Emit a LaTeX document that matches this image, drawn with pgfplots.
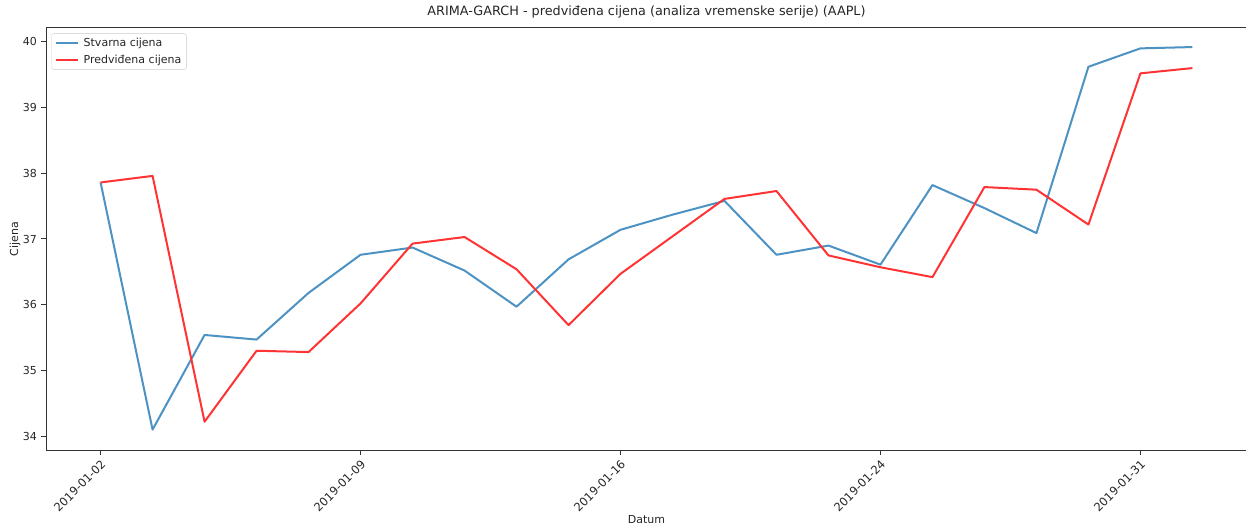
\documentclass[border=0pt]{standalone}
\usepackage{fontspec}
\setmainfont{DejaVu Sans}
\usepackage{pgfplots}
\pgfplotsset{compat=1.18}
\definecolor{mblue}{HTML}{4C92C3}
\definecolor{mred}{HTML}{FF3333}
\definecolor{spine}{HTML}{333333}
\begin{document}
\begin{tikzpicture}
\begin{axis}[
  at={(46pt,72pt)}, anchor=south west,
  width=1201pt, height=422pt, scale only axis,
  xmin=-1.05, xmax=22.05, ymin=33.79, ymax=40.21,
  xtick={0,5,10,15,20},
  xticklabels={2019-01-02,2019-01-09,2019-01-16,2019-01-24,2019-01-31},
  ytick={34,35,36,37,38,39,40},
  tick align=outside, xtick pos=bottom, ytick pos=left,
  major tick length=5pt,
  every tick/.style={spine, line width=1pt},
  axis line style={spine, line width=1pt},
  tick label style={font=\fontsize{11}{13}\selectfont, text=black!85},
  /pgf/number format/assume math mode=true,
  xticklabel style={rotate=45, anchor=east, inner sep=0pt, xshift=-3pt, yshift=-7pt, font=\fontsize{11.5}{13}\selectfont},
  yticklabel style={anchor=east, inner sep=0pt, xshift=-4pt},
  title={ARIMA-GARCH - predviđena cijena (analiza vremenske serije) (AAPL)},
  title style={font=\fontsize{12.8}{15}\selectfont, at={(axis description cs:0.5,1)}, anchor=base, yshift=6pt, inner sep=0pt, text=black!85},
  xlabel={Datum},
  xlabel style={at={(axis description cs:0.5,-0.164)}, anchor=center, font=\fontsize{11}{13}\selectfont, text=black!85},
  ylabel={Cijena},
  ylabel style={at={(axis description cs:-0.0258,0.5)}, anchor=center, font=\fontsize{11}{13}\selectfont, text=black!85},
  legend cell align=left,
  legend image code/.code={\draw[#1] (0pt,0pt) -- (22pt,0pt);},
  legend style={at={(axis description cs:0,1)}, anchor=north west, xshift=5.5pt, yshift=-5.5pt,
    draw=black!20, rounded corners=2pt, fill=white, fill opacity=0.8, text opacity=1,
    inner xsep=3pt, inner ysep=2.5pt, row sep=3pt, column sep=3pt,
    font=\fontsize{11}{13}\selectfont, text=black!85},
]
\addplot[mblue, line width=2pt, line join=round] coordinates {
(0,37.86) (1,34.10) (2,35.54) (3,35.47) (4,36.18) (5,36.76) (6,36.87) (7,36.52)
(8,35.97) (9,36.69) (10,37.14) (11,37.37) (12,37.58) (13,36.76) (14,36.90) (15,36.61)
(16,37.82) (17,37.47) (18,37.09) (19,39.62) (20,39.90) (21,39.92)};
\addlegendentry{Stvarna cijena}
\addplot[mred, line width=2pt, line join=round] coordinates {
(0,37.86) (1,37.96) (2,34.22) (3,35.30) (4,35.28) (5,36.02) (6,36.93) (7,37.03)
(8,36.54) (9,35.69) (10,36.47) (11,37.04) (12,37.61) (13,37.73) (14,36.75) (15,36.57)
(16,36.42) (17,37.79) (18,37.75) (19,37.22) (20,39.52) (21,39.60)};
\addlegendentry{Predviđena cijena}
\end{axis}
\pgfresetboundingbox
\useasboundingbox (0,0) rectangle (1246pt,522pt);
\end{tikzpicture}
\end{document}
